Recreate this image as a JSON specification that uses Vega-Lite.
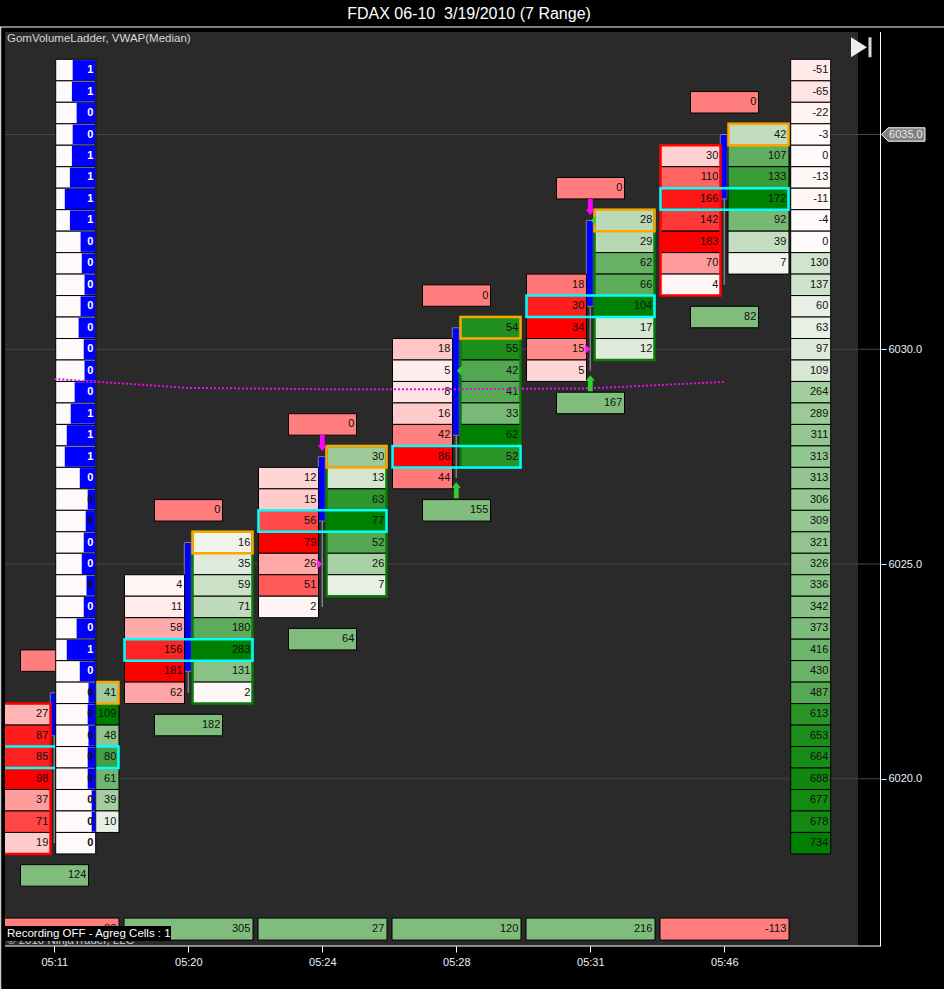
{"$schema":"https://vega.github.io/schema/vega-lite/v6.json","autosize":{"type":"none"},"width":880,"height":919,"padding":{"left":1,"top":27,"right":63,"bottom":44},"background":"#000000","view":{"stroke":null,"fill":"#000000"},
"title":{"text":"FDAX 06-10\u00a0 3/19/2010 (7 Range)","font":"Liberation Sans","fontSize":16,"fontWeight":"normal","color":"#ffffff","anchor":"middle","dx":28,"offset":5},
"config":{"text":{"font":"Liberation Sans"},"axis":{"labelFont":"Liberation Sans"}},
"datasets":{
"bids":[{"time":"05:11","price":6021.5,"value":27,"shade":-0.276},{"time":"05:11","price":6021,"value":87,"shade":-0.888},{"time":"05:11","price":6020.5,"value":85,"shade":-0.867},{"time":"05:11","price":6020,"value":98,"shade":-1},{"time":"05:11","price":6019.5,"value":37,"shade":-0.378},{"time":"05:11","price":6019,"value":71,"shade":-0.724},{"time":"05:11","price":6018.5,"value":19,"shade":-0.194},
{"time":"05:20","price":6024.5,"value":4,"shade":-0.022},{"time":"05:20","price":6024,"value":11,"shade":-0.061},{"time":"05:20","price":6023.5,"value":58,"shade":-0.32},{"time":"05:20","price":6023,"value":156,"shade":-0.862},{"time":"05:20","price":6022.5,"value":181,"shade":-1},{"time":"05:20","price":6022,"value":62,"shade":-0.343},
{"time":"05:24","price":6027,"value":12,"shade":-0.152},{"time":"05:24","price":6026.5,"value":15,"shade":-0.19},{"time":"05:24","price":6026,"value":56,"shade":-0.709},{"time":"05:24","price":6025.5,"value":79,"shade":-1},{"time":"05:24","price":6025,"value":26,"shade":-0.329},{"time":"05:24","price":6024.5,"value":51,"shade":-0.646},{"time":"05:24","price":6024,"value":2,"shade":-0.025},
{"time":"05:28","price":6030,"value":18,"shade":-0.209},{"time":"05:28","price":6029.5,"value":5,"shade":-0.058},{"time":"05:28","price":6029,"value":8,"shade":-0.093},{"time":"05:28","price":6028.5,"value":16,"shade":-0.186},{"time":"05:28","price":6028,"value":42,"shade":-0.488},{"time":"05:28","price":6027.5,"value":86,"shade":-1},{"time":"05:28","price":6027,"value":44,"shade":-0.512},
{"time":"05:31","price":6031.5,"value":18,"shade":-0.529},{"time":"05:31","price":6031,"value":30,"shade":-0.882},{"time":"05:31","price":6030.5,"value":34,"shade":-1},{"time":"05:31","price":6030,"value":15,"shade":-0.441},{"time":"05:31","price":6029.5,"value":5,"shade":-0.147},
{"time":"05:46","price":6034.5,"value":30,"shade":-0.164},{"time":"05:46","price":6034,"value":110,"shade":-0.601},{"time":"05:46","price":6033.5,"value":166,"shade":-0.907},{"time":"05:46","price":6033,"value":142,"shade":-0.776},{"time":"05:46","price":6032.5,"value":183,"shade":-1},{"time":"05:46","price":6032,"value":70,"shade":-0.383},{"time":"05:46","price":6031.5,"value":4,"shade":-0.022}],
"asks":[{"time":"05:11","price":6022,"value":41,"shade":0.376},{"time":"05:11","price":6021.5,"value":109,"shade":1},{"time":"05:11","price":6021,"value":48,"shade":0.44},{"time":"05:11","price":6020.5,"value":80,"shade":0.734},{"time":"05:11","price":6020,"value":61,"shade":0.56},{"time":"05:11","price":6019.5,"value":39,"shade":0.358},{"time":"05:11","price":6019,"value":10,"shade":0.092},
{"time":"05:20","price":6025.5,"value":16,"shade":0.057},{"time":"05:20","price":6025,"value":35,"shade":0.124},{"time":"05:20","price":6024.5,"value":59,"shade":0.208},{"time":"05:20","price":6024,"value":71,"shade":0.251},{"time":"05:20","price":6023.5,"value":180,"shade":0.636},{"time":"05:20","price":6023,"value":283,"shade":1},{"time":"05:20","price":6022.5,"value":131,"shade":0.463},{"time":"05:20","price":6022,"value":2,"shade":0.007},
{"time":"05:24","price":6027.5,"value":30,"shade":0.39},{"time":"05:24","price":6027,"value":13,"shade":0.169},{"time":"05:24","price":6026.5,"value":63,"shade":0.818},{"time":"05:24","price":6026,"value":77,"shade":1},{"time":"05:24","price":6025.5,"value":52,"shade":0.675},{"time":"05:24","price":6025,"value":26,"shade":0.338},{"time":"05:24","price":6024.5,"value":7,"shade":0.091},
{"time":"05:28","price":6030.5,"value":54,"shade":0.871},{"time":"05:28","price":6030,"value":55,"shade":0.887},{"time":"05:28","price":6029.5,"value":42,"shade":0.677},{"time":"05:28","price":6029,"value":41,"shade":0.661},{"time":"05:28","price":6028.5,"value":33,"shade":0.532},{"time":"05:28","price":6028,"value":62,"shade":1},{"time":"05:28","price":6027.5,"value":52,"shade":0.839},
{"time":"05:31","price":6033,"value":28,"shade":0.269},{"time":"05:31","price":6032.5,"value":29,"shade":0.279},{"time":"05:31","price":6032,"value":62,"shade":0.596},{"time":"05:31","price":6031.5,"value":66,"shade":0.635},{"time":"05:31","price":6031,"value":104,"shade":1},{"time":"05:31","price":6030.5,"value":17,"shade":0.163},{"time":"05:31","price":6030,"value":12,"shade":0.115},
{"time":"05:46","price":6035,"value":42,"shade":0.244},{"time":"05:46","price":6034.5,"value":107,"shade":0.622},{"time":"05:46","price":6034,"value":133,"shade":0.773},{"time":"05:46","price":6033.5,"value":172,"shade":1},{"time":"05:46","price":6033,"value":92,"shade":0.535},{"time":"05:46","price":6032.5,"value":39,"shade":0.227},{"time":"05:46","price":6032,"value":7,"shade":0.041}],
"cum":[{"time":"05:46","price":6036.5,"value":-51,"shade":-0.069},{"time":"05:46","price":6036,"value":-65,"shade":-0.089},{"time":"05:46","price":6035.5,"value":-22,"shade":-0.03},{"time":"05:46","price":6035,"value":-3,"shade":-0.004},{"time":"05:46","price":6034.5,"value":0,"shade":0},{"time":"05:46","price":6034,"value":-13,"shade":-0.018},{"time":"05:46","price":6033.5,"value":-11,"shade":-0.015},{"time":"05:46","price":6033,"value":-4,"shade":-0.005},{"time":"05:46","price":6032.5,"value":0,"shade":0},{"time":"05:46","price":6032,"value":130,"shade":0.177},{"time":"05:46","price":6031.5,"value":137,"shade":0.187},{"time":"05:46","price":6031,"value":60,"shade":0.082},{"time":"05:46","price":6030.5,"value":63,"shade":0.086},{"time":"05:46","price":6030,"value":97,"shade":0.132},{"time":"05:46","price":6029.5,"value":109,"shade":0.149},{"time":"05:46","price":6029,"value":264,"shade":0.36},{"time":"05:46","price":6028.5,"value":289,"shade":0.394},{"time":"05:46","price":6028,"value":311,"shade":0.424},{"time":"05:46","price":6027.5,"value":313,"shade":0.426},{"time":"05:46","price":6027,"value":313,"shade":0.426},{"time":"05:46","price":6026.5,"value":306,"shade":0.417},{"time":"05:46","price":6026,"value":309,"shade":0.421},{"time":"05:46","price":6025.5,"value":321,"shade":0.437},{"time":"05:46","price":6025,"value":326,"shade":0.444},{"time":"05:46","price":6024.5,"value":336,"shade":0.458},{"time":"05:46","price":6024,"value":342,"shade":0.466},{"time":"05:46","price":6023.5,"value":373,"shade":0.508},{"time":"05:46","price":6023,"value":416,"shade":0.567},{"time":"05:46","price":6022.5,"value":430,"shade":0.586},{"time":"05:46","price":6022,"value":487,"shade":0.663},{"time":"05:46","price":6021.5,"value":613,"shade":0.835},{"time":"05:46","price":6021,"value":653,"shade":0.89},{"time":"05:46","price":6020.5,"value":664,"shade":0.905},{"time":"05:46","price":6020,"value":688,"shade":0.937},{"time":"05:46","price":6019.5,"value":677,"shade":0.922},{"time":"05:46","price":6019,"value":678,"shade":0.924},{"time":"05:46","price":6018.5,"value":734,"shade":1}],
"ladder":[{"time":"05:11","price":6036.5,"value":1,"share":0.57},{"time":"05:11","price":6036,"value":1,"share":0.59},{"time":"05:11","price":6035.5,"value":0,"share":0.47},{"time":"05:11","price":6035,"value":0,"share":0.57},{"time":"05:11","price":6034.5,"value":1,"share":0.59},{"time":"05:11","price":6034,"value":1,"share":0.64},{"time":"05:11","price":6033.5,"value":1,"share":0.77},{"time":"05:11","price":6033,"value":1,"share":0.64},{"time":"05:11","price":6032.5,"value":0,"share":0.37},{"time":"05:11","price":6032,"value":0,"share":0.34},{"time":"05:11","price":6031.5,"value":0,"share":0.27},{"time":"05:11","price":6031,"value":0,"share":0.37},{"time":"05:11","price":6030.5,"value":0,"share":0.42},{"time":"05:11","price":6030,"value":0,"share":0.29},{"time":"05:11","price":6029.5,"value":0,"share":0.27},{"time":"05:11","price":6029,"value":0,"share":0.52},{"time":"05:11","price":6028.5,"value":1,"share":0.62},{"time":"05:11","price":6028,"value":1,"share":0.72},{"time":"05:11","price":6027.5,"value":1,"share":0.77},{"time":"05:11","price":6027,"value":0,"share":0.39},{"time":"05:11","price":6026.5,"value":0,"share":0.19},{"time":"05:11","price":6026,"value":0,"share":0.24},{"time":"05:11","price":6025.5,"value":0,"share":0.29},{"time":"05:11","price":6025,"value":0,"share":0.34},{"time":"05:11","price":6024.5,"value":0,"share":0.22},{"time":"05:11","price":6024,"value":0,"share":0.29},{"time":"05:11","price":6023.5,"value":0,"share":0.47},{"time":"05:11","price":6023,"value":1,"share":0.72},{"time":"05:11","price":6022.5,"value":0,"share":0.39},{"time":"05:11","price":6022,"value":0,"share":0.17},{"time":"05:11","price":6021.5,"value":0,"share":0.19},{"time":"05:11","price":6021,"value":0,"share":0.17},{"time":"05:11","price":6020.5,"value":0,"share":0.19},{"time":"05:11","price":6020,"value":0,"share":0.19},{"time":"05:11","price":6019.5,"value":0,"share":0.09},{"time":"05:11","price":6019,"value":0,"share":0.09},{"time":"05:11","price":6018.5,"value":0,"share":0}],
"deltas":[{"time":"05:11","price":6022.75,"value":0,"shade":-0.5},{"time":"05:11","price":6017.75,"value":124,"shade":0.5},{"time":"05:20","price":6026.25,"value":0,"shade":-0.5},{"time":"05:20","price":6021.25,"value":182,"shade":0.5},{"time":"05:24","price":6028.25,"value":0,"shade":-0.5},{"time":"05:24","price":6023.25,"value":64,"shade":0.5},{"time":"05:28","price":6031.25,"value":0,"shade":-0.5},{"time":"05:28","price":6026.25,"value":155,"shade":0.5},{"time":"05:31","price":6033.75,"value":0,"shade":-0.5},{"time":"05:31","price":6028.75,"value":167,"shade":0.5},{"time":"05:46","price":6035.75,"value":0,"shade":-0.5},{"time":"05:46","price":6030.75,"value":82,"shade":0.5}],
"totals":[{"time":"05:11","price":6016.5,"value":-88,"shade":-0.5},{"time":"05:20","price":6016.5,"value":305,"shade":0.5},{"time":"05:24","price":6016.5,"value":27,"shade":0.5},{"time":"05:28","price":6016.5,"value":120,"shade":0.5},{"time":"05:31","price":6016.5,"value":216,"shade":0.5},{"time":"05:46","price":6016.5,"value":-113,"shade":-0.5}],
"candles":[{"time":"05:11","open":6021,"close":6022,"high":6022,"low":6018.5},{"time":"05:20","open":6022.5,"close":6025.5,"high":6025.5,"low":6022},{"time":"05:24","open":6026,"close":6027.5,"high":6027.5,"low":6024},{"time":"05:28","open":6028,"close":6030.5,"high":6030.5,"low":6027},{"time":"05:31","open":6031,"close":6033,"high":6033,"low":6029.5},{"time":"05:46","open":6033.5,"close":6035,"high":6035,"low":6031.5}],
"poc":[{"time":"05:11","price":6020.5},{"time":"05:20","price":6023},{"time":"05:24","price":6026},{"time":"05:28","price":6027.5},{"time":"05:31","price":6031},{"time":"05:46","price":6033.5}],
"topAsk":[{"time":"05:11","price":6022},{"time":"05:20","price":6025.5},{"time":"05:24","price":6027.5},{"time":"05:28","price":6030.5},{"time":"05:31","price":6033},{"time":"05:46","price":6035}],
"bidFrames":[{"time":"05:11","top":6021.75,"bottom":6018.25},{"time":"05:46","top":6034.75,"bottom":6031.25}],
"askFrames":[{"time":"05:20","top":6025.75,"bottom":6021.75},{"time":"05:24","top":6027.75,"bottom":6024.25},{"time":"05:28","top":6030.75,"bottom":6027.25},{"time":"05:31","top":6033.25,"bottom":6029.75}],
"vwap":[{"time":"05:11","price":6029.31},{"time":"05:20","price":6029.1},{"time":"05:24","price":6029.07},{"time":"05:28","price":6029.07},{"time":"05:31","price":6029.09},{"time":"05:46","price":6029.24}],
"downArrows":[{"time":"05:24","price":6027.82},{"time":"05:31","price":6033.31}],
"upArrows":[{"time":"05:28","price":6026.72},{"time":"05:31","price":6029.21}],
"sellMarks":[{"time":"05:24","price":6025},{"time":"05:31","price":6030}],
"buyMarks":[{"time":"05:28","price":6029.5},{"time":"05:31","price":6033}],
"grid":[{"price":6020},{"price":6025},{"price":6030},{"price":6035}]
},
"resolve":{"scale":{"x":"independent"},"axis":{"y":"independent"}},
"layer":[
{"data":{"values":[{"panel":"chart"}]},"mark":{"type":"rect","fill":"#2a2a2a"},"encoding":{"x":{"datum":0,"type":"quantitative","scale":{"domain":[0,1],"range":[4,857]},"axis":null},"x2":{"datum":1},"y":{"datum":6037.387,"type":"quantitative","axis":null,"scale":{"domain":[6016.106,6037.503],"nice":false,"zero":false}},"y2":{"datum":6016.106}}},
{"data":{"name":"grid"},"mark":{"type":"rule","stroke":"#464646","strokeWidth":1},"encoding":{"y":{"field":"price","type":"quantitative","title":null,"scale":{"domain":[6016.106,6037.503],"nice":false,"zero":false},"axis":{"orient":"right","values":[6020,6025,6030],"format":".1f","grid":false,"domain":false,"ticks":true,"tickColor":"#ffffff","tickSize":5,"tickWidth":1,"labelColor":"#e8f2ff","labelFontSize":11,"labelPadding":2,"zindex":1}}}},
{"encoding":{"y":{"field":"price","type":"quantitative","title":null,"axis":null,"scale":{"domain":[6016.106,6037.503],"nice":false,"zero":false}},"x":{"field":"time","type":"ordinal","title":null,"scale":{"type":"point","padding":0,"domain":["05:11","05:20","05:24","05:28","05:31","05:46"],"range":[53.3,723.3]},"axis":{"labelAngle":0,"domain":false,"grid":false,"tickColor":"#ffffff","tickSize":6,"tickWidth":1,"labelColor":"#e8f2ff","labelFontSize":11,"labelPadding":4,"labelFlush":false,"zindex":1}}},
"layer":[
{"data":{"name":"candles"},"mark":{"type":"rule","stroke":"#808080","strokeWidth":1.5},"encoding":{"y":{"field":"high","type":"quantitative"},"y2":{"field":"low"}}},
{"data":{"name":"candles"},"mark":{"type":"rect","fill":"#0000ff","stroke":"#808080","strokeWidth":1,"width":7,"xOffset":-0.5},"encoding":{"y":{"field":"close","type":"quantitative"},"y2":{"field":"open"}}},
{"data":{"name":"bids"},"mark":{"type":"rect","stroke":"#000000","strokeWidth":1,"width":60,"height":21.475,"xOffset":-33.8},"encoding":{"fill":{"field":"shade","type":"quantitative","legend":null,"scale":{"domain":[-1,0,1],"range":["#ff0000","#fffafa","#008000"],"interpolate":"rgb"}}}},
{"data":{"name":"asks"},"mark":{"type":"rect","stroke":"#000000","strokeWidth":1,"width":61,"height":21.475,"xOffset":34.2},"encoding":{"fill":{"field":"shade","type":"quantitative","legend":null}}},
{"data":{"name":"deltas"},"mark":{"type":"rect","stroke":"#000000","strokeWidth":1,"width":68,"height":21.475,"xOffset":0.2},"encoding":{"fill":{"field":"shade","type":"quantitative","legend":null}}},
{"data":{"name":"totals"},"mark":{"type":"rect","stroke":"#000000","strokeWidth":1,"width":129,"height":22,"xOffset":0.2},"encoding":{"fill":{"field":"shade","type":"quantitative","legend":null}}},
{"data":{"name":"cum"},"mark":{"type":"rect","stroke":"#000000","strokeWidth":1,"width":40,"height":21.475,"xOffset":86.4},"encoding":{"fill":{"field":"shade","type":"quantitative","legend":null}}},
{"data":{"name":"bidFrames"},"mark":{"type":"rect","fill":null,"stroke":"#ff0000","strokeWidth":2.5,"width":60,"xOffset":-33.8},"encoding":{"y":{"field":"top","type":"quantitative"},"y2":{"field":"bottom"}}},
{"data":{"name":"askFrames"},"mark":{"type":"rect","fill":null,"stroke":"#0a7a0a","strokeWidth":2.5,"width":60,"xOffset":34.2},"encoding":{"y":{"field":"top","type":"quantitative"},"y2":{"field":"bottom"}}},
{"data":{"name":"topAsk"},"mark":{"type":"rect","fill":null,"stroke":"#ffa500","strokeWidth":2.5,"width":60,"height":21.5,"xOffset":34.2},"encoding":{}},
{"data":{"name":"poc"},"mark":{"type":"rect","fill":null,"stroke":"#00ffff","strokeWidth":2.5,"width":128,"height":21.5,"xOffset":0.2},"encoding":{}},
{"data":{"name":"bids"},"mark":{"type":"text","align":"right","baseline":"middle","fontSize":11,"fill":"#101010","xOffset":-6},"encoding":{"text":{"field":"value","type":"nominal"},"fontWeight":{"condition":{"test":"datum.shade==-1","value":"bold"},"value":"normal"}}},
{"data":{"name":"asks"},"mark":{"type":"text","align":"right","baseline":"middle","fontSize":11,"fill":"#101010","xOffset":62},"encoding":{"text":{"field":"value","type":"nominal"},"fontWeight":{"condition":{"test":"datum.shade==1","value":"bold"},"value":"normal"}}},
{"data":{"name":"deltas"},"mark":{"type":"text","align":"right","baseline":"middle","fontSize":11,"fill":"#101010","xOffset":32},"encoding":{"text":{"field":"value","type":"nominal"}}},
{"data":{"name":"totals"},"mark":{"type":"text","align":"right","baseline":"middle","fontSize":11,"fill":"#101010","xOffset":62},"encoding":{"text":{"field":"value","type":"nominal"}}},
{"data":{"name":"cum"},"mark":{"type":"text","align":"right","baseline":"middle","fontSize":11,"fill":"#101010","xOffset":104},"encoding":{"text":{"field":"value","type":"nominal"}}},
{"data":{"name":"ladder"},"mark":{"type":"rect","fill":"#fffafa","stroke":"#000000","strokeWidth":1,"width":40,"height":21.475,"xOffset":21.4},"encoding":{}}
]},
{"data":{"name":"ladder"},"mark":{"type":"rect","fill":"#0000ff","height":20},"encoding":{"y":{"field":"price","type":"quantitative","title":null,"axis":null,"scale":{"domain":[6016.106,6037.503],"nice":false,"zero":false}},"x":{"field":"share","type":"quantitative","title":null,"axis":null,"scale":{"domain":[0,1],"range":[94.2,54.7],"nice":false,"zero":false}},"x2":{"datum":0}}},
{"encoding":{"y":{"field":"price","type":"quantitative","title":null,"axis":null,"scale":{"domain":[6016.106,6037.503],"nice":false,"zero":false}},"x":{"field":"time","type":"ordinal","title":null,"axis":null,"scale":{"type":"point","padding":0,"domain":["05:11","05:20","05:24","05:28","05:31","05:46"],"range":[53.3,723.3]}}},
"layer":[
{"data":{"name":"ladder"},"mark":{"type":"text","align":"right","baseline":"middle","fontSize":11,"fontWeight":"bold","xOffset":39},"encoding":{"text":{"field":"value","type":"nominal"},"fill":{"condition":{"test":"datum.share>=0.27","value":"#ffffff"},"value":"#101010"}}},
{"data":{"name":"vwap"},"mark":{"type":"line","stroke":"#e010e0","strokeWidth":2,"strokeDash":[2,2]},"encoding":{}},
{"data":{"name":"downArrows"},"mark":{"type":"point","filled":true,"fill":"#ff00ff","opacity":1,"size":256,"shape":"M-0.3,-1L0.3,-1L0.3,0.3L0.58,0.3L0,1L-0.58,0.3L-0.3,0.3Z"},"encoding":{}},
{"data":{"name":"upArrows"},"mark":{"type":"point","filled":true,"fill":"#32cd32","opacity":1,"size":256,"shape":"M-0.3,1L0.3,1L0.3,-0.3L0.58,-0.3L0,-1L-0.58,-0.3L-0.3,-0.3Z"},"encoding":{}},
{"data":{"name":"sellMarks"},"mark":{"type":"point","filled":true,"fill":"#ff20ff","opacity":1,"size":100,"xOffset":-2.8,"shape":"M-0.5,-1L0.5,0L-0.5,1Z"},"encoding":{}},
{"data":{"name":"buyMarks"},"mark":{"type":"point","filled":true,"fill":"#32cd32","opacity":1,"size":100,"xOffset":3,"shape":"M0.5,-1L-0.5,0L0.5,1Z"},"encoding":{}}
]},
{"layer":[
{"data":{"values":[{"label":"strip"}]},"mark":{"type":"rect","fill":"#000000"},"encoding":{"x":{"datum":-0.00586,"type":"quantitative","axis":null,"scale":{"domain":[0,1],"range":[4,857]}},"x2":{"datum":0},"y":{"datum":6037.387,"type":"quantitative","axis":null},"y2":{"datum":6016.106}}},
{"data":{"values":[{"label":"\u00a9 2010 NinjaTrader, LLC"}]},"mark":{"type":"text","align":"left","baseline":"alphabetic","fontSize":11.5,"fill":"#c8c8c8"},"encoding":{"x":{"datum":0.00234,"type":"quantitative","axis":null,"scale":{"domain":[0,1],"range":[4,857]}},"y":{"datum":6016.15,"type":"quantitative","axis":null},"text":{"field":"label"}}},
{"data":{"values":[{"label":"box"}]},"mark":{"type":"rect","fill":"#000000"},"encoding":{"x":{"datum":0,"type":"quantitative","axis":null,"scale":{"domain":[0,1],"range":[4,857]}},"x2":{"datum":0.1946},"y":{"datum":6016.57,"type":"quantitative","axis":null},"y2":{"datum":6016.22}}},
{"data":{"values":[{"label":"Recording OFF - Agreg Cells : 1"}]},"mark":{"type":"text","align":"left","baseline":"middle","fontSize":11.5,"fill":"#ffffff"},"encoding":{"x":{"datum":0.00234,"type":"quantitative","axis":null,"scale":{"domain":[0,1],"range":[4,857]}},"y":{"datum":6016.39,"type":"quantitative","axis":null},"text":{"field":"label"}}},
{"data":{"values":[{"label":"GomVolumeLadder, VWAP(Median)"}]},"mark":{"type":"text","align":"left","baseline":"middle","fontSize":11.5,"fill":"#d8d8d8"},"encoding":{"x":{"datum":0.00234,"type":"quantitative","axis":null,"scale":{"domain":[0,1],"range":[4,857]}},"y":{"datum":6037.224,"type":"quantitative","axis":null},"text":{"field":"label"}}},
{"data":{"values":[{"label":"top"}]},"mark":{"type":"rule","stroke":"#ffffff","strokeWidth":1},"encoding":{"x":{"datum":-0.00586,"type":"quantitative","axis":null,"scale":{"domain":[0,1],"range":[4,857]}},"x2":{"datum":1.1008},"y":{"datum":6037.503,"type":"quantitative","axis":null}}},
{"data":{"values":[{"label":"bottom"}]},"mark":{"type":"rule","stroke":"#ffffff","strokeWidth":1},"encoding":{"x":{"datum":0,"type":"quantitative","axis":null,"scale":{"domain":[0,1],"range":[4,857]}},"x2":{"datum":1.027},"y":{"datum":6016.106,"type":"quantitative","axis":null}}},
{"data":{"values":[{"label":"edge"}]},"mark":{"type":"rule","stroke":"#ffffff","strokeWidth":1},"encoding":{"x":{"datum":-0.00586,"type":"quantitative","axis":null,"scale":{"domain":[0,1],"range":[4,857]}},"x2":{"datum":1.1008},"y":{"datum":6015.093,"type":"quantitative","axis":null}}},
{"data":{"values":[{"label":"right"}]},"mark":{"type":"rule","stroke":"#ffffff","strokeWidth":1},"encoding":{"x":{"datum":1.0264,"type":"quantitative","axis":null,"scale":{"domain":[0,1],"range":[4,857]}},"y":{"datum":6037.387,"type":"quantitative","axis":null},"y2":{"datum":6016.106}}},
{"data":{"values":[{"label":"left"}]},"mark":{"type":"rule","stroke":"#ffffff","strokeWidth":1},"encoding":{"x":{"datum":-0.00504,"type":"quantitative","axis":null,"scale":{"domain":[0,1],"range":[4,857]}},"y":{"datum":6037.503,"type":"quantitative","axis":null},"y2":{"datum":6015.08}}},
{"data":{"values":[{"label":"play"}]},"mark":{"type":"point","filled":true,"fill":"#eeeeee","opacity":1,"size":400,"shape":"M-0.8,-1L0.8,0L-0.8,1Z"},"encoding":{"x":{"datum":1.0012,"type":"quantitative","axis":null,"scale":{"domain":[0,1],"range":[4,857]}},"y":{"datum":6037.03,"type":"quantitative","axis":null}}},
{"data":{"values":[{"label":"end"}]},"mark":{"type":"rect","fill":"#d8d8d8"},"encoding":{"x":{"datum":1.01231,"type":"quantitative","axis":null,"scale":{"domain":[0,1],"range":[4,857]}},"x2":{"datum":1.01583},"y":{"datum":6037.263,"type":"quantitative","axis":null},"y2":{"datum":6036.8}}},
{"data":{"values":[{"label":"flag"}]},"mark":{"type":"point","filled":true,"fill":"#808080","stroke":"#ffffff","strokeWidth":1,"opacity":1,"size":1875,"shape":"M-1,0L-0.7,-0.31L1,-0.31L1,0.31L-0.7,0.31Z"},"encoding":{"x":{"datum":1.0531,"type":"quantitative","axis":null,"scale":{"domain":[0,1],"range":[4,857]}},"y":{"datum":6035,"type":"quantitative","axis":null}}},
{"data":{"values":[{"label":"6035.0"}]},"mark":{"type":"text","align":"center","baseline":"middle","fontSize":11,"fill":"#e8e8e8"},"encoding":{"x":{"datum":1.0561,"type":"quantitative","axis":null,"scale":{"domain":[0,1],"range":[4,857]}},"y":{"datum":6035,"type":"quantitative","axis":null},"text":{"field":"label"}}}
]}
]}
